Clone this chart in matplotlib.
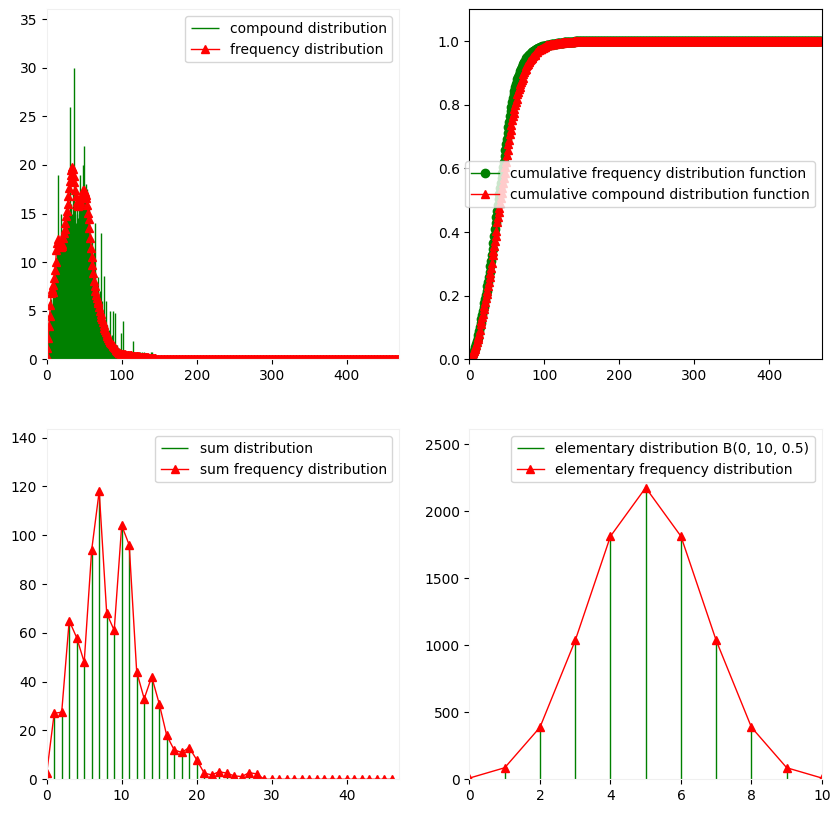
import numpy as np
from matplotlib import pyplot as plt


# compound distribution (green vlines), values for x = 0..150, zero after
compound_head = [
    4.0, 2.5, 3.0, 3.9, 3.5, 5.0, 6.2, 5.5, 6.0, 7.0,
    8.0, 9.5, 8.5, 10.0, 11.0, 19.0, 10.5, 12.0, 11.5, 15.0,
    11.0, 12.5, 11.8, 13.0, 12.0, 14.0, 13.5, 15.0, 14.0, 16.0,
    15.0, 26.0, 14.5, 16.0, 15.0, 17.0, 15.5, 30.0, 16.0, 14.0,
    15.0, 16.5, 14.5, 15.5, 19.0, 15.0, 16.0, 15.5, 20.0, 16.0,
    22.0, 16.5, 18.0, 15.5, 17.5, 15.0, 14.0, 15.5, 13.0, 12.0,
    11.0, 12.5, 10.0, 11.0, 14.0, 9.0, 8.0, 7.5, 8.5, 7.0,
    6.5, 7.0, 13.0, 5.5, 6.0, 4.5, 8.6, 4.0, 3.5, 6.0,
    3.0, 3.5, 2.5, 3.0, 2.5, 5.0, 2.0, 2.5, 1.8, 5.0,
    1.5, 4.8, 1.5, 1.2, 1.5, 1.0, 1.2, 0.8, 1.0, 2.7,
    0.8, 0.7, 3.9, 0.6, 0.8, 0.5, 0.6, 0.4, 0.5, 0.3,
    0.4, 0.3, 0.3, 0.2, 0.3, 1.9, 0.2, 0.2, 0.2, 0.2,
    0.2, 0.8, 0.1, 0.1, 0.8, 0.1, 0.1, 0.8, 0.1, 0.1,
    0.8, 0.0, 0.0, 0.0, 0.0, 0.0, 0.0, 0.0, 0.0, 0.8,
    0.0, 0.8, 0.0, 0.0, 0.0, 0.0, 0.0, 0.0, 0.0, 0.0,
    0.0,
]
compound_tail = [0.0] * 319

# frequency distribution (red triangles), values for x = 0..150, ~0 after
frequency_head = [
    0.3, 1.2, 2.2, 3.4, 4.5, 5.6, 6.8, 7.2, 6.9, 7.6,
    8.4, 9.2, 10.0, 11.2, 12.0, 12.4, 12.2, 11.9, 11.8, 11.6,
    11.7, 11.9, 12.5, 13.0, 13.4, 14.0, 14.7, 15.3, 16.0, 16.8,
    17.6, 18.3, 19.0, 19.5, 19.8, 19.6, 18.9, 18.2, 17.4, 16.8,
    16.2, 15.9, 15.8, 15.9, 16.1, 16.3, 16.6, 16.9, 17.2, 17.4,
    17.4, 17.2, 16.9, 16.6, 15.9, 15.1, 14.4, 13.5, 12.5, 11.5,
    10.5, 9.7, 8.9, 8.1, 7.5, 7.0, 6.6, 6.3, 6.0, 5.8,
    5.4, 5.0, 4.7, 4.4, 4.1, 3.8, 3.5, 3.2, 3.0, 2.8,
    2.6, 2.4, 2.2, 2.0, 1.9, 1.8, 1.7, 1.6, 1.5, 1.4,
    1.3, 1.2, 1.1, 1.0, 0.9, 0.8, 0.7, 0.7, 0.65, 0.6,
    0.55, 0.55, 0.5, 0.5, 0.5, 0.48, 0.47, 0.46, 0.45, 0.45,
    0.44, 0.42, 0.4, 0.4, 0.38, 0.37, 0.36, 0.35, 0.34, 0.33,
    0.32, 0.31, 0.3, 0.3, 0.29, 0.28, 0.27, 0.26, 0.25, 0.25,
    0.24, 0.23, 0.22, 0.21, 0.2, 0.19, 0.18, 0.17, 0.16, 0.15,
    0.14, 0.13, 0.12, 0.11, 0.1, 0.09, 0.08, 0.07, 0.06, 0.05,
    0.05,
]
frequency_tail = [0.0] * 319

# sum distribution, x = 0..46
sum_values = [
    2.5, 27, 27.5, 65, 58, 48, 94, 118, 68, 61,
    104, 96, 44, 33, 42, 31, 18, 12, 11, 13,
    8, 2.5, 1.8, 3.1, 2.5, 1.4, 1.1, 2.7, 2.2, 0,
    0, 0, 0, 0, 0, 0, 0, 0, 0, 0,
    0, 0, 0, 0, 0, 0, 0,
]

# elementary distribution B(0, 10, 0.5), x = 0..10
elem_values = [9, 86, 388, 1036, 1814, 2177, 1814, 1036, 388, 86, 9]


def soft_frame(ax):
    for s in ax.spines.values():
        s.set_color('#f0f0f0')


if __name__ == "__main__":
    compound = np.array(compound_head + compound_tail)
    frequency = np.array(frequency_head + frequency_tail)
    x_big = np.arange(len(compound))

    fig = plt.figure(figsize=(8.4, 8.13), dpi=100)
    ax1 = fig.add_axes([0.0556, 0.558, 0.4196, 0.4304])
    ax2 = fig.add_axes([0.5589, 0.558, 0.4196, 0.4304])
    ax3 = fig.add_axes([0.0556, 0.0415, 0.4196, 0.4304])
    ax4 = fig.add_axes([0.5589, 0.0415, 0.4196, 0.4304])

    # 1. compound / frequency
    ax1.vlines(x_big, 0, compound, colors='g', linewidth=1, label='compound distribution')
    ax1.plot(x_big, frequency, 'r^-', linewidth=1, label='frequency distribution')
    ax1.set_xlim(0, len(compound))
    ax1.set_ylim(0, compound.max() * 1.2)
    ax1.legend(loc='upper right')
    soft_frame(ax1)

    # 2. cumulative functions
    cum_freq = np.cumsum(frequency) / frequency.sum()
    cum_comp = np.cumsum(compound) / compound.sum()
    ax2.plot(x_big, cum_freq, 'go-', linewidth=1, label='cumulative frequency distribution function')
    ax2.plot(x_big, cum_comp, 'r^-', linewidth=1, label='cumulative compound distribution function')
    ax2.set_xlim(0, len(compound))
    ax2.set_ylim(0, 1.1)
    ax2.legend(loc='center', bbox_to_anchor=(0.484, 0.5))

    # 3. sum distribution
    x_sum = np.arange(len(sum_values))
    ax3.vlines(x_sum, 0, sum_values, colors='g', linewidth=1, label='sum distribution')
    ax3.plot(x_sum, sum_values, 'r^-', linewidth=1, label='sum frequency distribution')
    ax3.set_xlim(0, len(sum_values))
    ax3.set_ylim(0, max(sum_values) * 1.215)
    ax3.legend(loc='upper right')
    soft_frame(ax3)

    # 4. elementary distribution
    x_el = np.arange(len(elem_values))
    ax4.vlines(x_el, 0, elem_values, colors='g', linewidth=1, label='elementary distribution B(0, 10, 0.5)')
    ax4.plot(x_el, elem_values, 'r^-', linewidth=1, label='elementary frequency distribution')
    ax4.set_xlim(0, 10)
    ax4.set_ylim(0, max(elem_values) * 1.2)
    ax4.legend(loc='upper right')
    soft_frame(ax4)

    plt.savefig('out.png')
